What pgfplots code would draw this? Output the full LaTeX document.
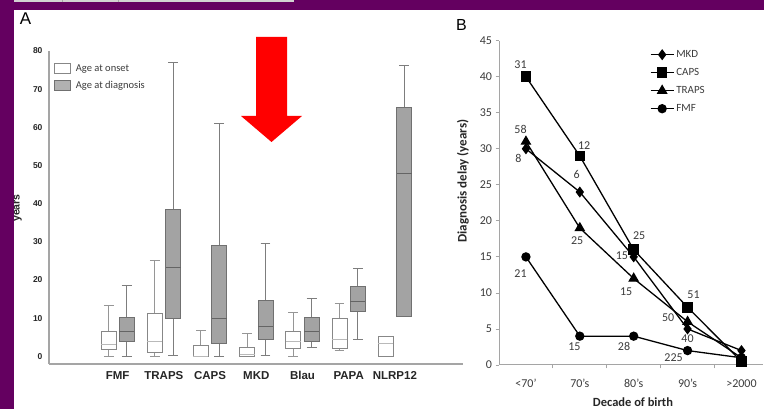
\documentclass[border=0pt]{standalone}
\usepackage{pgfplots}
\pgfplotsset{compat=1.18}
\usepgfplotslibrary{statistics}
\usepackage{fontspec}
\setmainfont{Carlito}
\newfontfamily\arialf{Liberation Sans}
\definecolor{slidepurple}{RGB}{100,0,96}
\definecolor{axgray}{RGB}{165,165,165}
\definecolor{onsetedge}{RGB}{135,135,135}
\definecolor{onsetwhisk}{RGB}{150,150,150}
\definecolor{onsetmed}{RGB}{185,185,185}
\definecolor{diagfill}{RGB}{163,163,163}
\definecolor{diagedge}{RGB}{112,112,112}
\definecolor{diagmed}{RGB}{100,100,100}
\definecolor{diagwhisk}{RGB}{125,125,125}
\definecolor{txtgray}{RGB}{60,60,60}
\pgfplotsset{
  onset/.style={draw=onsetedge, fill=white, line width=0.9pt,
    boxplot/every whisker/.style={draw=onsetwhisk},
    boxplot/every median/.style={draw=onsetmed}},
  diag/.style={draw=diagedge, fill=diagfill, line width=0.9pt,
    boxplot/every whisker/.style={draw=diagwhisk},
    boxplot/every median/.style={draw=diagmed}},
  boxlegend/.style={legend image code/.code={\draw[##1] (0pt,-5pt) rectangle (16pt,5pt);}},
}
\begin{document}
\begin{tikzpicture}[x=1pt,y=1pt]
\useasboundingbox (0,0) rectangle (764,409);
\fill[white] (0,0) rectangle (764,409);
\fill[slidepurple] (0,0) rectangle (14,409);
\fill[slidepurple] (0,399) rectangle (764,409);
\fill[gray!35] (14,406.5) rectangle (294,409);
\draw[gray!70, line width=0.8pt] (62.5,406.5) -- (62.5,409);
\draw[gray!70, line width=0.8pt] (118,406.5) -- (118,409);

% Panel A
\begin{axis}[
  at={(49pt,45pt)}, anchor=south west,
  scale only axis, width=414pt, height=313pt,
  xmin=-0.487, xmax=8.474, ymin=-2, ymax=80,
  axis x line=bottom, axis y line=left,
  axis line style={-, draw=axgray, line width=1.2pt},
  xtick={1,...,7},
  xticklabels={FMF,TRAPS,CAPS,MKD,Blau,PAPA,NLRP12},
  ytick={0,10,...,80},
  major tick length=0pt,
  tick style={draw=none},
  xticklabel style={font=\arialf\bfseries\fontsize{11.5}{13}\selectfont, yshift=-4pt, text=black!85},
  yticklabel style={font=\arialf\bfseries\fontsize{8.5}{10}\selectfont, xshift=-3pt, text=black!85},
  /pgf/number format/assume math mode=true,
  boxplot/draw direction=y,
  boxplot/box extend=0.325,
  boxplot/whisker extend=0.21,
  clip=false,
  legend style={at={(axis description cs:0.012,0.962)}, anchor=north west,
    draw=none, fill=none, inner sep=0pt, outer sep=0pt, row sep=6.5pt, column sep=5pt,
    font=\fontsize{10.5}{12}\selectfont, text=txtgray,
    nodes={inner sep=0pt, text height=8pt, text depth=2.5pt}},
  legend cell align=left,
]
\addlegendimage{boxlegend, draw=onsetedge, fill=white, line width=0.9pt}
\addlegendentry{Age at onset}
\addlegendimage{boxlegend, draw=diagedge, fill=diagfill!85!white, line width=0.9pt}
\addlegendentry{Age at diagnosis}
% FMF
\addplot[onset, boxplot prepared={draw position=0.805, lower whisker=0, lower quartile=1.7, median=3.1, upper quartile=6.4, upper whisker=13.3}] coordinates {};
\addplot[diag, boxplot prepared={draw position=1.195, lower whisker=0, lower quartile=3.9, median=6.4, upper quartile=10.1, upper whisker=18.5}] coordinates {};
% TRAPS
\addplot[onset, boxplot prepared={draw position=1.8, lower whisker=0, lower quartile=1.0, median=3.9, upper quartile=11.3, upper whisker=25.0}] coordinates {};
\addplot[diag, boxplot prepared={draw position=2.2, lower whisker=0.3, lower quartile=10.0, median=23.2, upper quartile=38.4, upper whisker=77.1}] coordinates {};
% CAPS
\addplot[onset, boxplot prepared={draw position=2.8, lower whisker=0, lower quartile=0, median=0.1, upper quartile=2.9, upper whisker=6.9}] coordinates {};
\addplot[diag, boxplot prepared={draw position=3.2, lower whisker=0, lower quartile=3.3, median=9.9, upper quartile=29.0, upper whisker=61.0}] coordinates {};
% MKD
\addplot[onset, boxplot prepared={draw position=3.8, lower whisker=0, lower quartile=0.1, median=0.6, upper quartile=2.4, upper whisker=5.9}] coordinates {};
\addplot[diag, boxplot prepared={draw position=4.2, lower whisker=0.3, lower quartile=4.3, median=7.9, upper quartile=14.7, upper whisker=29.5}] coordinates {};
% Blau
\addplot[onset, boxplot prepared={draw position=4.8, lower whisker=0, lower quartile=2.0, median=3.9, upper quartile=6.5, upper whisker=11.4}] coordinates {};
\addplot[diag, boxplot prepared={draw position=5.2, lower whisker=2.4, lower quartile=3.9, median=6.6, upper quartile=10.1, upper whisker=15.1}] coordinates {};
% PAPA
\addplot[onset, boxplot prepared={draw position=5.8, lower whisker=1.5, lower quartile=2.0, median=4.4, upper quartile=9.9, upper whisker=13.9}] coordinates {};
\addplot[diag, boxplot prepared={draw position=6.2, lower whisker=4.3, lower quartile=11.7, median=14.4, upper quartile=18.4, upper whisker=23.0}] coordinates {};
% NLRP12
\addplot[onset, boxplot prepared={draw position=6.8, lower whisker=0, lower quartile=0, median=3.35, upper quartile=5.1, upper whisker=5.1}] coordinates {};
\addplot[diag, boxplot prepared={draw position=7.2, lower whisker=10.4, lower quartile=10.4, median=47.9, upper quartile=65.3, upper whisker=76.1}] coordinates {};
\end{axis}

% Panel B
\begin{axis}[
  at={(499pt,44pt)}, anchor=south west,
  scale only axis, width=264pt, height=324.3pt,
  xmin=-0.5, xmax=4.4, ymin=0, ymax=45,
  axis x line=bottom, axis y line=left,
  axis line style={-, draw=axgray, line width=1pt},
  xtick={0.5,1.5,2.5,3.5}, xticklabels={},
  extra x ticks={0,1,2,3,4},
  extra x tick labels={<70',70's,80's,90's,>2000},
  extra x tick style={major tick length=0pt, xticklabel style={yshift=-11pt}},
  ytick={0,5,...,45},
  tick align=outside, major tick length=3.5pt,
  tick style={draw=axgray, line width=0.8pt},
  ticklabel style={font=\fontsize{12}{14}\selectfont, text=txtgray},
  /pgf/number format/assume math mode=true,
  clip=false,
  every axis plot/.append style={line width=1.3pt, black},
  legend style={at={(axis description cs:0.572,0.973)}, anchor=north west,
    draw=none, fill=none, inner sep=0pt, outer sep=0pt, row sep=7.5pt, column sep=2pt,
    font=\fontsize{11}{13}\selectfont, text=txtgray,
    nodes={inner sep=0pt, text height=8pt, text depth=2.5pt}},
  legend cell align=left,
  legend image code/.code={\draw[mark repeat=2, mark phase=2, #1] plot coordinates {(0pt,0pt) (11.5pt,0pt) (23pt,0pt)};},
]
\addplot[mark=diamond*, mark size=4.5pt] coordinates {(0,30) (1,24) (2,15) (3,5) (4,2)};
\addlegendentry{MKD}
\addplot[mark=square*, mark size=4.6pt] coordinates {(0,40) (1,29) (2,16) (3,8) (4,0.5)};
\addlegendentry{CAPS}
\addplot[mark=triangle*, mark size=5pt] coordinates {(0,31) (1,19) (2,12) (3,6) (4,1)};
\addlegendentry{TRAPS}
\addplot[mark=*, mark size=4pt] coordinates {(0,15) (1,4) (2,4) (3,2) (4,1)};
\addlegendentry{FMF}
\begin{scope}[every node/.style={font=\fontsize{12}{14}\selectfont, text=txtgray, inner sep=0pt}]
\node at (axis cs:-0.10,41.7) {31};
\node at (axis cs:1.08,30.5) {12};
\node at (axis cs:2.10,17.9) {25};
\node at (axis cs:3.11,9.7) {51};
\node at (axis cs:-0.10,32.7) {58};
\node at (axis cs:-0.14,28.7) {8};
\node at (axis cs:0.94,26.5) {6};
\node at (axis cs:0.95,17.3) {25};
\node at (axis cs:1.78,15.1) {15};
\node at (axis cs:1.86,10.2) {15};
\node at (axis cs:2.64,6.6) {50};
\node at (axis cs:3.00,3.6) {40};
\node at (axis cs:-0.10,12.7) {21};
\node at (axis cs:0.90,2.6) {15};
\node at (axis cs:1.82,2.6) {28};
\node at (axis cs:2.74,1.0) {225};
\end{scope}
\end{axis}

% texts and arrow
\node[font=\arialf\fontsize{17}{19}\selectfont] at (25.5,390) {A};
\node[font=\arialf\fontsize{16}{18}\selectfont] at (461.5,384) {B};
\node[rotate=90, font=\arialf\bfseries\fontsize{10.5}{12}\selectfont, text=black!85] at (18,201) {years};
\node[rotate=90, font=\bfseries\fontsize{13}{15}\selectfont, text=black!85] at (463,228) {Diagnosis delay (years)};
\node[font=\bfseries\fontsize{12.5}{14}\selectfont, text=black!85] at (633,6.5) {Decade of birth};
\fill[red] (256,372) -- (287,372) -- (287,293) -- (302,293) -- (271.5,267) -- (241,293) -- (256,293) -- cycle;
\end{tikzpicture}
\end{document}
